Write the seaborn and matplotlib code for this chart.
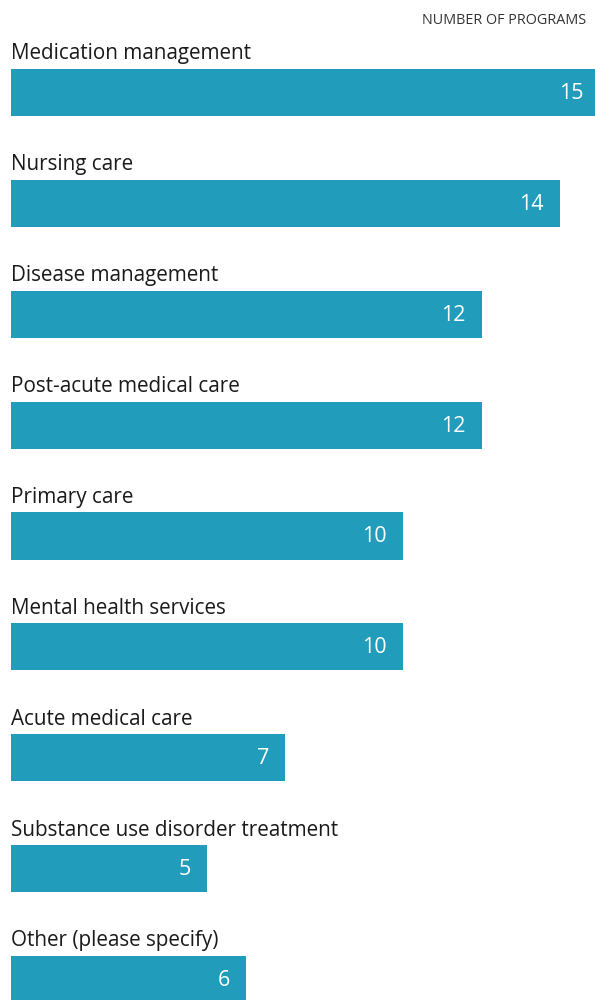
import matplotlib
matplotlib.use("Agg")
import matplotlib.pyplot as plt
import seaborn as sns
import pandas as pd

categories = ["Medication management", "Nursing care", "Disease management",
              "Post-acute medical care", "Primary care", "Mental health services",
              "Acute medical care", "Substance use disorder treatment",
              "Other (please specify)"]
values = [15, 14, 12, 12, 10, 10, 7, 5, 6]
header = "NUMBER OF PROGRAMS"

sns.set_theme(style="white")
plt.rcParams['font.family'] = ['Open Sans', 'DejaVu Sans']

df = pd.DataFrame({"category": categories, "value": values})

W, H = 595, 1000
fig = plt.figure(figsize=(W / 100, H / 100), dpi=100)
ax = fig.add_axes([10.5 / W, 0, 1 - 10.5 / W, 1])

sns.barplot(data=df, y="category", x="value", order=categories, color="#219DBB",
            width=0.424, saturation=1, ax=ax, orient="h", linewidth=0)

ax.set_xlim(0, (W - 10.5) / 39.25)
ax.set_ylim(8 + 20.5 / 110.875, -92.5 / 110.875)
ax.axis("off")

for i, (c, v) in enumerate(zip(categories, values)):
    ax.text(0.013, i - 0.212 - 9.5 / 110.875, c, fontsize=14.9, color="#1a1a1a",
            ha="left", va="baseline")
    ax.text(v - 16 / 39.25, i + 1 / 110.875, str(v), fontsize=15.5, color="white",
            ha="right", va="center")

fig.text(586 / W, 1 - 21 / H, header, fontsize=10.4, color="#333333",
         ha="right", va="center")

fig.savefig("out.png", dpi=100)
